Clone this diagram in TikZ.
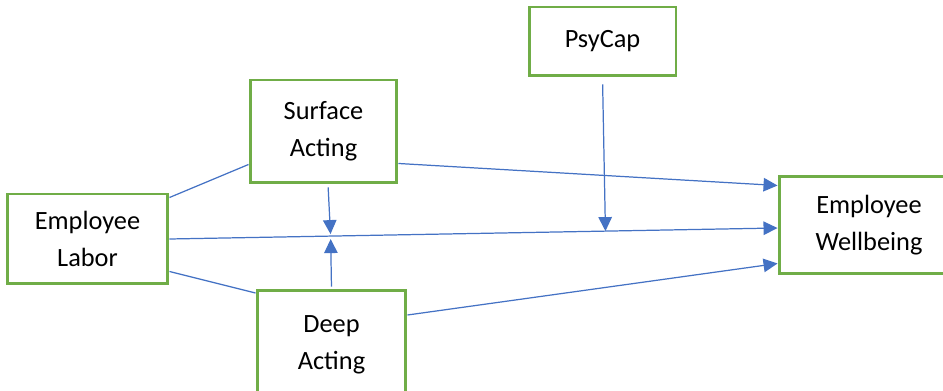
\documentclass[tikz,border=0pt]{standalone}
\usepackage{fontspec}
\setmainfont{Carlito}
\usetikzlibrary{arrows.meta, positioning}
\usepackage{xcolor}
\definecolor{boxgreen}{RGB}{112,173,71}
\definecolor{lineblue}{RGB}{68,114,196}

\begin{document}
\begin{tikzpicture}[
    x=0.02cm, y=-0.02cm,
    box/.style={rectangle, draw=boxgreen, line width=1.7pt, fill=white, align=center, font=\fontsize{15pt}{21pt}\selectfont},
    link/.style={draw=lineblue, line width=0.7pt},
    arrow/.style={link, -{Triangle[length=0.28cm, width=0.27cm]}}
]
\clip (0,0) rectangle (943,391);
\node[box, minimum width=3.22cm, minimum height=1.8cm] (labor) at (87.5,239) {Employee\\Labor};
\node[box, minimum width=2.94cm, minimum height=2.06cm] (surface) at (323.5,131.5) {Surface\\Acting};
\node[box, minimum width=2.94cm, minimum height=1.38cm] (psycap) at (602.5,41.5) {PsyCap};
\node[box, minimum width=3.6cm, minimum height=1.96cm] (wellbeing) at (869,225) {Employee\\Wellbeing};
\node[box, minimum width=2.98cm, minimum height=2.2cm] (deep) at (331.5,345) {Deep\\Acting};

\draw[link] ([yshift=-0.1cm]labor.north east) -- ([yshift=0.4cm]surface.south west);
\draw[link] ([yshift=0.28cm]labor.south east) -- ([yshift=1.04cm]deep.west);
\draw[arrow] (labor.east) -- ([yshift=-0.06cm]wellbeing.west)
    coordinate[pos=0.265] (mod1) coordinate[pos=0.717] (mod2);
\draw[arrow] ([yshift=0.42cm]surface.south east) -- ([yshift=-0.22cm]wellbeing.north west);
\draw[arrow] ([yshift=0.6cm]deep.east) -- ([yshift=0.24cm]wellbeing.south west);

\draw[arrow, shorten <=0.06cm, shorten >=0.04cm] ([xshift=0.09cm]surface.south) -- (mod1);
\draw[arrow, shorten <=0.04cm, shorten >=0.06cm] (deep.north) -- (mod1);
\draw[arrow, shorten <=0.14cm] (psycap.south) -- (mod2);
\end{tikzpicture}
\end{document}
